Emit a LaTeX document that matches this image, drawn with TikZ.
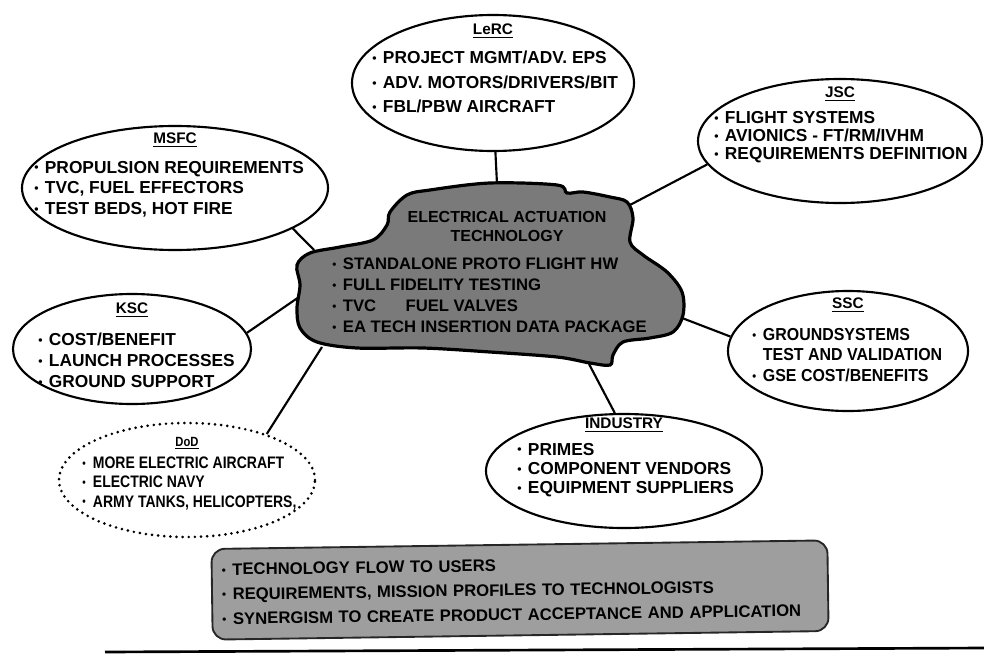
\documentclass[tikz,border=0pt]{standalone}
\usepackage{fontspec}
\usepackage{graphicx}
\setmainfont{Liberation Sans}
\newfontfamily\narrowfont{Liberation Sans}[FakeStretch=0.84]
\newfontfamily\semifont{Liberation Sans}[FakeStretch=0.92]
\usetikzlibrary{shapes.geometric}
\newcommand\blt{\makebox[8pt][l]{\raisebox{0.8pt}{\scalebox{0.7}{\textbullet}}}}
\tikzset{
  site/.style={ellipse, draw, line width=1.6pt, fill=white, inner sep=0pt},
  dodsite/.style={site, line width=2.2pt, dash pattern=on 0pt off 4.6pt, line cap=round},
  head/.style={inner sep=0pt, font=\fontsize{11.5}{12}\selectfont\bfseries},
  items/.style={anchor=west, inner sep=0pt, align=left, font=\fontsize{13}{#1}\selectfont\bfseries},
  items/.default=15,
  link/.style={line width=1.6pt},
  blob/.style={draw, line width=2.4pt, fill=black!52},
  banner/.style={rectangle, rounded corners=10pt, draw=black!85, line width=1.4pt, fill=black!38,
    align=left, text width=447pt, minimum width=462pt, minimum height=68pt,
    font=\fontsize{12.5}{18.5}\selectfont\bfseries}
}
\begin{document}
\begin{tikzpicture}[x=0.75pt, y=-0.75pt]
  \useasboundingbox (0,0) rectangle (984,660);
  % centres of the partners
  \node[site, minimum width=211.5pt, minimum height=102pt] (lerc) at (493,83) {};
  \node[site, minimum width=229.5pt, minimum height=93pt] (msfc) at (175,188) {};
  \node[site, minimum width=213pt, minimum height=93pt] (jsc) at (840,141) {};
  \node[site, minimum width=178.5pt, minimum height=82.5pt] (ksc) at (132,349) {};
  \node[site, minimum width=180pt, minimum height=90pt] (ssc) at (848,351) {};
  \node[site, minimum width=207pt, minimum height=85.5pt] (ind) at (624,471) {};
  \node[dodsite, minimum width=192pt, minimum height=85.5pt] (dod) at (187,480) {};

  \node[head] (lerc-h) at (493,31) {\underline{LeRC}};
  \node[items=18.5] (lerc-t) at (372,82) {\blt PROJECT MGMT/ADV. EPS\\\blt ADV. MOTORS/DRIVERS/BIT\\\blt FBL/PBW AIRCRAFT};
  \node[head] (msfc-h) at (175,140) {\underline{MSFC}};
  \node[items=15.5] (msfc-t) at (34,189) {\blt PROPULSION REQUIREMENTS\\\blt TVC, FUEL EFFECTORS\\\blt TEST BEDS, HOT FIRE};
  \node[head] (jsc-h) at (840,94) {\underline{JSC}};
  \node[items=13.5] (jsc-t) at (714,137) {\blt FLIGHT SYSTEMS\\\blt AVIONICS - FT/RM/IVHM\\\blt REQUIREMENTS DEFINITION};
  \node[head] (ksc-h) at (132,310) {\underline{KSC}};
  \node[items=15.75] (ksc-t) at (38,360) {\blt COST/BENEFIT\\\blt LAUNCH PROCESSES\\\blt GROUND SUPPORT};
  \node[head] (ssc-h) at (848,305) {\underline{SSC}};
  \node[items=15.5, font=\fontsize{13}{15.5}\selectfont\bfseries\semifont] (ssc-t) at (752,355) {\blt GROUNDSYSTEMS\\\phantom{\blt}TEST AND VALIDATION\\\blt GSE COST/BENEFITS};
  \node[head] (ind-h) at (624,425) {\underline{INDUSTRY}};
  \node[items=14.5] (ind-t) at (517,470) {\blt PRIMES\\\blt COMPONENT VENDORS\\\blt EQUIPMENT SUPPLIERS};
  \node[head, font=\fontsize{10}{11}\selectfont\bfseries\narrowfont] (dod-h) at (187,443) {\underline{DoD}};
  \node[items=14.6, font=\fontsize{12.5}{14.6}\selectfont\bfseries\narrowfont] (dod-t) at (82,483) {\blt MORE ELECTRIC AIRCRAFT\\\blt ELECTRIC NAVY\\\blt ARMY TANKS, HELICOPTERS,};

  % where the links meet the blob
  \coordinate (eat-n) at (497,184);
  \coordinate (eat-nw) at (314,250);
  \coordinate (eat-ne) at (628,206);
  \coordinate (eat-w) at (299,297);
  \coordinate (eat-e) at (682,318);
  \coordinate (eat-s) at (589,364);
  \coordinate (eat-sw) at (322,347);
  \draw[link] (lerc.-88) -- (eat-n);
  \draw[link] (msfc.-19) -- (eat-nw);
  \draw[link] (jsc.190) -- (eat-ne);
  \draw[link] (ksc.8) -- (eat-w);
  \draw[link] (ssc.173) -- (eat-e);
  \draw[link] (ind.99) -- (eat-s);
  \draw[link] (dod.30) -- (eat-sw);

  % the blob
  \draw[blob] plot[smooth cycle, tension=0.55] coordinates {
    (390,212) (407,195) (430,190) (490,183) (557,185) (567,193) (583,192)
    (610,197) (627,202) (633,218) (630,242) (643,255) (667,272) (682,292)
    (683,315) (673,332) (650,338) (623,342) (613,355) (610,365) (590,363)
    (557,357) (490,352) (423,348) (357,348) (317,342) (300,328) (297,308)
    (300,285) (297,265) (310,253) (340,247) (373,240) (387,225)};
  \node[inner sep=0pt, align=center, font=\fontsize{12}{14.25}\selectfont\bfseries] (eat-h) at (507,226) {ELECTRICAL ACTUATION\\TECHNOLOGY};
  \node[items=15.75, font=\fontsize{12.5}{15.75}\selectfont\bfseries] (eat-t) at (332,295) {\blt STANDALONE PROTO FLIGHT HW\\\blt FULL FIDELITY TESTING\\\blt TVC\hspace{22pt}FUEL VALVES\\\blt EA TECH INSERTION DATA PACKAGE};

  % summary box
  \node[banner, rotate=0.8] (flow) at (520,590) {\blt TECHNOLOGY FLOW TO USERS\\\blt REQUIREMENTS, MISSION PROFILES TO TECHNOLOGISTS\\\blt SYNERGISM TO CREATE PRODUCT ACCEPTANCE AND APPLICATION};
  \draw[line width=2pt] (105,652) -- (984,648);
\end{tikzpicture}
\end{document}
